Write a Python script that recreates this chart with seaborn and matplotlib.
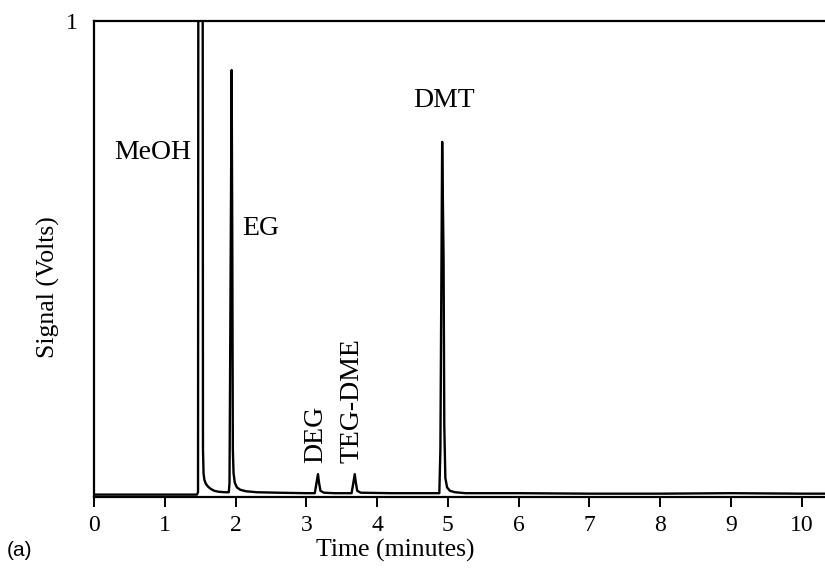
import matplotlib
matplotlib.use("Agg")
import matplotlib.pyplot as plt
import seaborn as sns
import pandas as pd

# ---- data ----
time_min = [0.00, 0.60, 1.20, 1.455, 1.470, 1.475, 1.535, 1.540, 1.548, 1.560, 1.580,
            1.610, 1.650, 1.700, 1.760, 1.850, 1.905, 1.915, 1.935, 1.945, 1.955,
            1.962, 1.972, 1.990, 2.020, 2.070, 2.150, 2.300, 2.600, 3.000, 3.120,
            3.145, 3.165, 3.180, 3.200, 3.250, 3.400, 3.640, 3.665, 3.685, 3.700,
            3.720, 3.770, 4.200, 4.880, 4.895, 4.920, 4.940, 4.950, 4.965, 4.990,
            5.030, 5.100, 5.250, 6.000, 7.000, 8.000, 9.000, 10.000, 10.400]
signal_v = [0.005, 0.005, 0.005, 0.005, 0.010, 1.300, 1.300, 0.100, 0.050, 0.036, 0.028,
            0.022, 0.017, 0.013, 0.011, 0.010, 0.010, 0.030, 0.600, 0.897, 0.500,
            0.100, 0.050, 0.030, 0.020, 0.015, 0.012, 0.010, 0.009, 0.008, 0.008,
            0.030, 0.048, 0.030, 0.013, 0.009, 0.008, 0.008, 0.030, 0.048, 0.030,
            0.013, 0.009, 0.008, 0.008, 0.100, 0.746, 0.500, 0.150, 0.040, 0.020,
            0.013, 0.010, 0.008, 0.008, 0.007, 0.007, 0.008, 0.007, 0.007]

peak_names = ["MeOH", "EG", "DEG", "TEG-DME", "DMT"]
x_ticks = [0, 1, 2, 3, 4, 5, 6, 7, 8, 9, 10]

df = pd.DataFrame({"Time (minutes)": time_min, "Signal (Volts)": signal_v})

sns.set_theme(style="white")
plt.rcParams["font.family"] = ["Liberation Serif", "DejaVu Serif"]
plt.rcParams["text.color"] = "black"
plt.rcParams["axes.labelcolor"] = "black"
plt.rcParams["xtick.color"] = "black"
plt.rcParams["ytick.color"] = "black"

fig = plt.figure(figsize=(8.25, 5.73), dpi=100)
ax = fig.add_axes([94 / 825, (573 - 497) / 573, (825 - 94) / 825, (497 - 21) / 573])

sns.lineplot(data=df, x="Time (minutes)", y="Signal (Volts)", ax=ax,
             sort=False, estimator=None, color="black", linewidth=1.7)

ax.set_xlim(0, 10.33)
ax.set_ylim(0, 1)
ax.set_xticks(x_ticks)
ax.set_xticklabels([str(t) for t in x_ticks])
ax.set_yticks([1])
ax.set_yticklabels(["1"])

for side in ["left", "top", "bottom"]:
    ax.spines[side].set_visible(True)
    ax.spines[side].set_color("black")
    ax.spines[side].set_linewidth(1.6)
ax.spines["right"].set_visible(False)

ax.tick_params(axis="x", direction="out", length=7, width=1.4, color="black",
               labelcolor="black", labelsize=17, pad=6, bottom=True)
ax.tick_params(axis="y", length=0, labelsize=17, labelcolor="black", pad=12)

ax.set_xlabel("Time (minutes)", fontsize=18.5, color="black")
ax.set_ylabel("Signal (Volts)", fontsize=18.5, color="black")
ax.xaxis.set_label_coords(0.412, -0.088)
ax.yaxis.set_label_coords(-0.047, 0.44)

# peak labels
ax.text(0.83, 0.723, peak_names[0], fontsize=20, ha="center", va="center", color="black")
ax.text(2.36, 0.565, peak_names[1], fontsize=20, ha="center", va="center", color="black")
ax.text(3.13, 0.072, peak_names[2], fontsize=20, ha="center", va="bottom", rotation=90,
        color="black")
ax.text(3.65, 0.072, peak_names[3], fontsize=20, ha="center", va="bottom", rotation=90,
        color="black")
ax.text(4.94, 0.834, peak_names[4], fontsize=20, ha="center", va="center", color="black")

fig.text(7 / 825, 1 - 551 / 573, "(a)", fontsize=15, family="Liberation Sans",
         ha="left", va="center", color="black")

fig.savefig("out.png", dpi=100)
